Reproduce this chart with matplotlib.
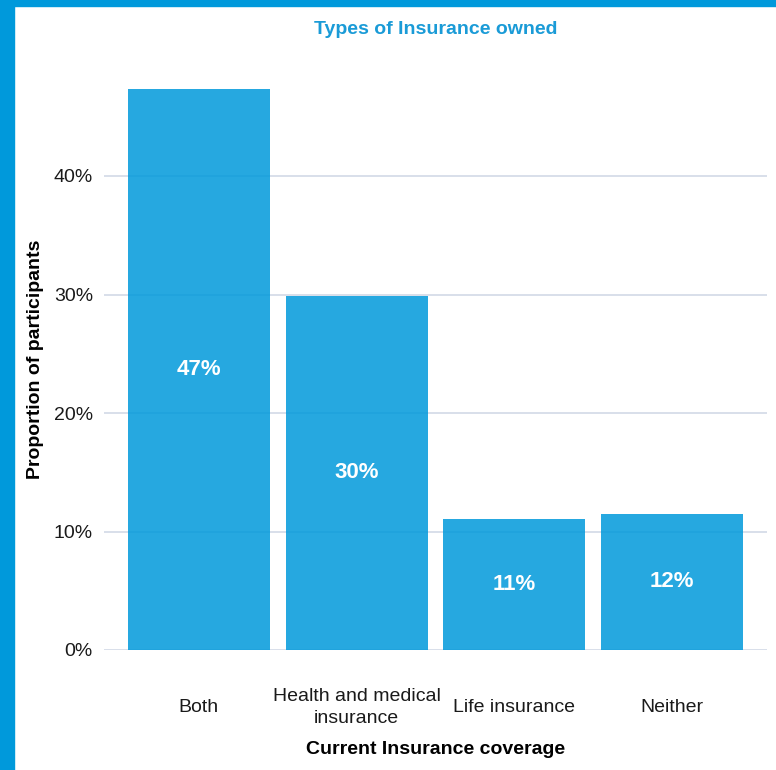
import matplotlib
matplotlib.use("Agg")
import matplotlib.pyplot as plt
from matplotlib.patches import Rectangle
from matplotlib.ticker import FuncFormatter

categories = ["Both", "Health and medical\ninsurance", "Life insurance", "Neither"]
values = [0.473, 0.299, 0.1105, 0.115]
labels = ["47%", "30%", "11%", "12%"]
yticks = [0.0, 0.1, 0.2, 0.3, 0.4]

W, H = 776, 770
fig = plt.figure(figsize=(W / 100, H / 100), dpi=100)
plt.rcParams['font.family'] = ['Liberation Sans', 'DejaVu Sans']

# blue frame (left and top)
fig.patches.append(Rectangle((0, 0), 14 / W, 1, transform=fig.transFigure,
                             color="#0099DB", zorder=0))
fig.patches.append(Rectangle((0, 1 - 6 / H), 1, 6 / H, transform=fig.transFigure,
                             color="#0099DB", zorder=0))

left, right = 104 / W, 767 / W
bottom = (H - 650) / H
ytop = 0.49
top_px = 650 - ytop * 1185
ax = fig.add_axes([left, bottom, right - left, (650 - top_px) / H])

x = list(range(len(categories)))
ax.bar(x, values, width=0.9, color="#0099DB", alpha=0.85, zorder=3)
for xi, v, lab in zip(x, values, labels):
    ax.text(xi, v / 2, lab, ha="center", va="center", color="white",
            fontsize=16, fontweight="bold", zorder=4)

ax.set_xlim(-0.6, 3.6)
ax.set_ylim(0, ytop)
ax.set_yticks(yticks)
ax.yaxis.set_major_formatter(FuncFormatter(lambda v, p: f"{v*100:.0f}%"))
ax.grid(axis="y", color="#D5DCE8", linewidth=1.3, zorder=1)
ax.set_axisbelow(True)
for s in ax.spines.values():
    s.set_visible(False)
ax.set_xticks(x)
ax.set_xticklabels(categories, fontsize=14, color="#1a1a1a", linespacing=1.4,
                   va="center")
ax.tick_params(axis="x", length=0, pad=41.5)
ax.tick_params(axis="y", length=0, pad=8, labelsize=14, labelcolor="#1a1a1a")

ax.set_xlabel("Current Insurance coverage", fontsize=14, fontweight="bold",
              color="black", labelpad=10)
ax.set_ylabel("Proportion of participants", fontsize=14, fontweight="bold",
              color="black", labelpad=7)

fig.text((left + right) / 2, 1 - 30 / H, "Types of Insurance owned",
         ha="center", va="center", fontsize=14, fontweight="bold", color="#1A9BD7")

fig.savefig("out.png", dpi=100)
